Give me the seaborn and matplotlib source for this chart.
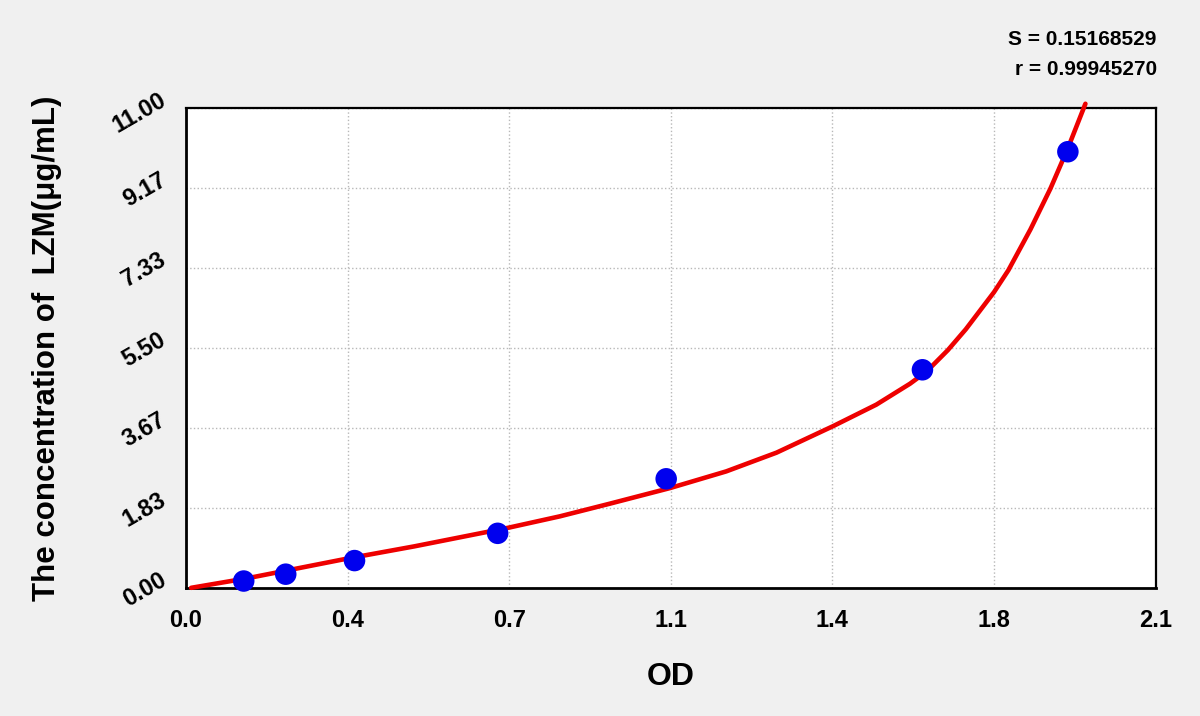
import matplotlib
matplotlib.use("Agg")
import matplotlib.pyplot as plt
import seaborn as sns
import numpy as np
from matplotlib.ticker import AutoMinorLocator

# standards: OD vs concentration
od = [0.125, 0.216, 0.365, 0.675, 1.040, 1.595, 1.910]
conc = [0.156, 0.313, 0.625, 1.25, 2.5, 5.0, 10.0]

# fitted curve
curve_od = [0.011, 0.133, 0.349, 0.494, 0.699, 0.810, 0.918, 1.049, 1.170,
            1.279, 1.402, 1.495, 1.568, 1.604, 1.650, 1.689, 1.750, 1.781,
            1.829, 1.872, 1.910, 1.948]
curve_conc = [0.00, 0.22, 0.67, 0.95, 1.38, 1.64, 1.93, 2.29, 2.67,
              3.10, 3.71, 4.20, 4.68, 4.96, 5.45, 5.93, 6.78, 7.28,
              8.22, 9.15, 10.08, 11.10]

x_ticks = [0.0, 0.35, 0.70, 1.05, 1.40, 1.75, 2.10]
x_labels = ['0.0', '0.4', '0.7', '1.1', '1.4', '1.8', '2.1']
y_ticks = [0.0, 11 / 6, 22 / 6, 33 / 6, 44 / 6, 55 / 6, 11.0]
y_labels = ['0.00', '1.83', '3.67', '5.50', '7.33', '9.17', '11.00']

S_value = 'S = 0.15168529'
r_value = 'r = 0.99945270'

sns.set_style('white')
plt.rcParams['font.family'] = ['Liberation Sans', 'DejaVu Sans']
plt.rcParams['text.color'] = 'black'
plt.rcParams['axes.labelcolor'] = 'black'
plt.rcParams['xtick.color'] = 'black'
plt.rcParams['ytick.color'] = 'black'

fig = plt.figure(figsize=(12, 7.16), dpi=100, facecolor='#f0f0f0')
ax = fig.add_axes([0.155, 0.179, 0.808, 0.670])
ax.set_facecolor('white')

sns.lineplot(x=curve_od, y=curve_conc, ax=ax, color='#ee0000', linewidth=3.3,
             estimator=None, zorder=3, clip_on=False)
sns.scatterplot(x=od, y=conc, ax=ax, color='#0000ee', s=240, edgecolor='none',
                zorder=4, clip_on=False)

ax.set_xlim(0, 2.1)
ax.set_ylim(0, 11)
ax.set_xticks(x_ticks)
ax.set_xticklabels(x_labels, fontsize=17, fontweight='bold')
ax.set_yticks(y_ticks)
ax.set_yticklabels(y_labels, fontsize=17, fontweight='bold', rotation=30,
                   ha='right', va='bottom', rotation_mode='anchor')
ax.xaxis.set_minor_locator(AutoMinorLocator(4))
ax.yaxis.set_minor_locator(AutoMinorLocator(4))
ax.tick_params(which='major', direction='out', length=9.5, width=1.6,
               color='black', pad=6)
ax.tick_params(which='minor', direction='out', length=6.5, width=1.6,
               color='black')
ax.tick_params(axis='y', which='major', pad=2)

ax.grid(True, which='major', linestyle=':', color='#b8b8b8', linewidth=1)
for side in ['left', 'bottom', 'top', 'right']:
    ax.spines[side].set_visible(True)
    ax.spines[side].set_color('black')
    ax.spines[side].set_linewidth(1.6)
ax.spines['left'].set_linewidth(2)
ax.spines['bottom'].set_linewidth(2)

ax.set_xlabel('OD', fontsize=23, fontweight='bold')
ax.set_ylabel('The concentration of  LZM(μg/mL)', fontsize=22.5,
              fontweight='bold')
ax.xaxis.set_label_coords(0.5, -0.155)
ax.yaxis.set_label_coords(-0.128, 0.5)

fig.text(0.964, 0.945, S_value, ha='right', va='center', fontsize=15,
         fontweight='bold')
fig.text(0.964, 0.903, r_value, ha='right', va='center', fontsize=15,
         fontweight='bold')

fig.savefig('out.png', dpi=100, facecolor=fig.get_facecolor())
